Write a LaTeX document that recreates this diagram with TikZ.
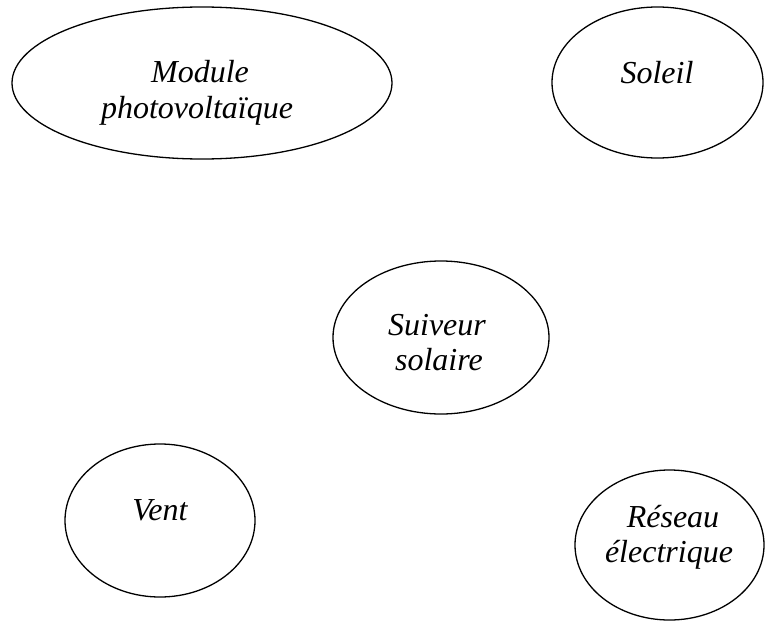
\documentclass[tikz,border=0pt]{standalone}
\usepackage{fontspec}
\setmainfont{Liberation Serif}
\usetikzlibrary{shapes.geometric}
\tikzset{
  oval/.style={ellipse, draw=black, line width=1.3pt, inner sep=0pt},
  lbl/.style={anchor=base, inner sep=0pt, font=\fontsize{32}{36}\selectfont\itshape}
}
\begin{document}
\begin{tikzpicture}[x=1pt,y=-1pt]
\useasboundingbox (0,0) rectangle (771,621);
\node[oval, minimum width=380pt, minimum height=152pt] (module) at (202,83) {};
\node[oval, minimum width=211pt, minimum height=151pt] (soleil) at (657.5,82.5) {};
\node[oval, minimum width=216pt, minimum height=153pt] (suiveur) at (441,337.5) {};
\node[oval, minimum width=190pt, minimum height=153pt] (vent) at (160,520.5) {};
\node[oval, minimum width=189pt, minimum height=150pt] (reseau) at (669.5,545) {};
\node[lbl] (t1a) at (200,82) {Module};
\node[lbl] (t1b) at (197,118) {photovoltaïque};
\node[lbl] (t2) at (657,83) {Soleil};
\node[lbl] (t3a) at (437,335) {Suiveur};
\node[lbl] (t3b) at (439,370) {solaire};
\node[lbl] (t4) at (160,520) {Vent};
\node[lbl] (t5a) at (673,527) {Réseau};
\node[lbl] (t5b) at (669,562) {électrique};
\end{tikzpicture}
\end{document}
